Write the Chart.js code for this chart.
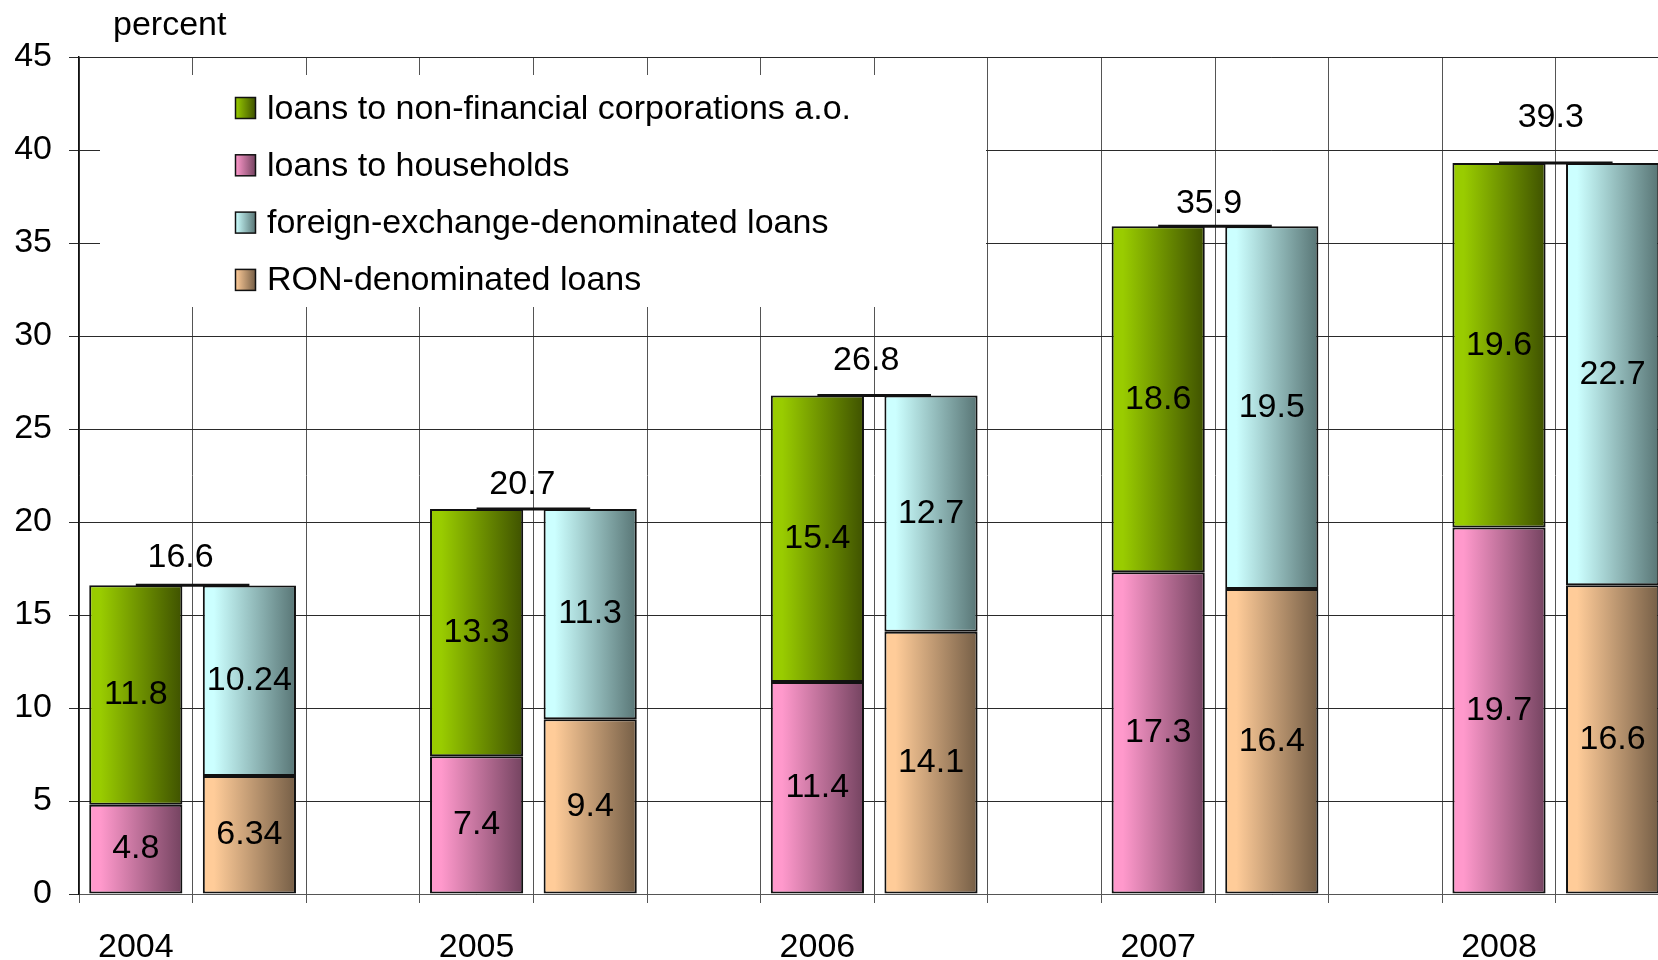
<!DOCTYPE html>
<html>
<head>
<meta charset="utf-8">
<script src="https://cdn.jsdelivr.net/npm/chart.js@4.4.0/dist/chart.umd.min.js"></script>
<style>
  html, body { margin: 0; padding: 0; overflow: hidden; background: #ffffff; width: 1658px; height: 960px; }
  #wrap { position: absolute; left: 0; top: 0; width: 1700px; height: 960px; }
</style>
</head>
<body>
<div id="wrap"><canvas id="c" width="1700" height="960"></canvas></div>
<script>
// ---- data ----
const years = ['2004', '2005', '2006', '2007', '2008'];
const nonFinancialCorp = [11.8, 13.3, 15.4, 18.6, 19.6];
const households = [4.8, 7.4, 11.4, 17.3, 19.7];
const fxDenominated = [10.24, 11.3, 12.7, 19.5, 22.7];
const ronDenominated = [6.34, 9.4, 14.1, 16.4, 16.6];
const totals = [16.6, 20.7, 26.8, 35.9, 39.3];
const yMin = 0, yMax = 45, yStep = 5;
const unitLabel = 'percent';
const seriesNames = {
  nonFin: 'loans to non-financial corporations a.o.',
  hh: 'loans to households',
  fx: 'foreign-exchange-denominated loans',
  ron: 'RON-denominated loans'
};

// ---- styles ----
const FONT = "'Liberation Sans', Arial, sans-serif";
const colors = {
  nonFin: ['#99CC00', '#3F5200'],
  hh: ['#FF99CC', '#744360'],
  fx: ['#CCFFFF', '#587575'],
  ron: ['#FFCC99', '#755E46']
};
const totalLabelLift = [28, 24, 35, 23, 45];
const totalLabelNudge = [-12, -11, -8, -6, -5];

// ---- category slots: [year A-bar, year B-bar, gap] ----
const slotCount = years.length * 3 - 1;
const labels = [];
for (let s = 0; s < slotCount; s++) labels.push(s % 3 === 0 ? years[s / 3] : '');
function place(values, offset) {
  const arr = new Array(slotCount).fill(null);
  values.forEach((v, i) => { arr[i * 3 + offset] = v; });
  return arr;
}

const BAR_PCT = 0.82;
function grad(pair) {
  return (ctx) => {
    const chart = ctx.chart;
    const xs = chart.scales && chart.scales.x;
    if (!xs || !chart.chartArea || ctx.type !== 'data') return pair[0];
    const cx = xs.getPixelForValue(ctx.dataIndex);
    const w = (xs.width / slotCount) * BAR_PCT;
    const g = chart.ctx.createLinearGradient(cx - w / 2, 0, cx + w / 2, 0);
    g.addColorStop(0, pair[0]);
    g.addColorStop(0.12, pair[0]);
    g.addColorStop(1, pair[1]);
    return g;
  };
}
function ds(label, values, offset, key) {
  return {
    label: label,
    data: place(values, offset),
    key: key,
    backgroundColor: grad(colors[key]),
    borderColor: '#111111',
    borderWidth: 2,
    borderSkipped: false,
    barPercentage: BAR_PCT,
    categoryPercentage: 1.0
  };
}

const datasets = [
  ds(seriesNames.hh, households, 0, 'hh'),
  ds(seriesNames.nonFin, nonFinancialCorp, 0, 'nonFin'),
  ds(seriesNames.ron, ronDenominated, 1, 'ron'),
  ds(seriesNames.fx, fxDenominated, 1, 'fx')
];
const legendOrder = ['nonFin', 'hh', 'fx', 'ron'];

const overlay = {
  id: 'overlay',
  beforeDatasetsDraw(chart) {
    const ctx = chart.ctx;
    ctx.save();
    // legend box (white, covering grid)
    ctx.fillStyle = '#ffffff';
    ctx.fillRect(100, 75, 886, 232);
    ctx.font = '34px ' + FONT;
    ctx.textAlign = 'left';
    ctx.textBaseline = 'alphabetic';
    legendOrder.forEach((key, k) => {
      const top = 97.5 + k * 57.3;
      const g = ctx.createLinearGradient(235.5, 0, 255.5, 0);
      g.addColorStop(0, colors[key][0]);
      g.addColorStop(1, colors[key][1]);
      ctx.fillStyle = g;
      ctx.fillRect(235.5, top, 20, 21);
      ctx.strokeStyle = '#111';
      ctx.lineWidth = 1.5;
      ctx.strokeRect(235.5, top, 20, 21);
      ctx.fillStyle = '#000';
      ctx.fillText(seriesNames[key], 267, top + 21);
    });
    ctx.restore();
  },
  afterDatasetsDraw(chart) {
    const ctx = chart.ctx;
    const xs = chart.scales.x, ys = chart.scales.y;
    ctx.save();
    ctx.font = '34px ' + FONT;
    ctx.fillStyle = '#000';
    ctx.textAlign = 'center';
    ctx.textBaseline = 'middle';
    // segment values
    chart.data.datasets.forEach((d, di) => {
      const meta = chart.getDatasetMeta(di);
      meta.data.forEach((el, i) => {
        const v = d.data[i];
        if (v === null || v === undefined) return;
        ctx.fillText(String(v), el.x, (el.y + el.base) / 2);
      });
    });
    // totals
    totals.forEach((t, i) => {
      const x1 = xs.getPixelForValue(i * 3);
      const x2 = xs.getPixelForValue(i * 3 + 1);
      const y = ys.getPixelForValue(t);
      ctx.strokeStyle = '#111';
      ctx.lineWidth = 3;
      ctx.beginPath();
      ctx.moveTo(x1, y);
      ctx.lineTo(x2, y);
      ctx.stroke();
      ctx.fillText(t.toFixed(1), (x1 + x2) / 2 + totalLabelNudge[i], y - totalLabelLift[i]);
    });
    // unit label
    ctx.textAlign = 'left';
    ctx.textBaseline = 'alphabetic';
    ctx.fillText(unitLabel, 113, 35);
    ctx.restore();
  }
};

new Chart(document.getElementById('c'), {
  type: 'bar',
  data: { labels: labels, datasets: datasets },
  options: {
    responsive: false,
    animation: false,
    devicePixelRatio: 1,
    layout: { padding: { top: 57, right: 30.6, left: 0, bottom: 0 } },
    plugins: { legend: { display: false }, tooltip: { enabled: false } },
    scales: {
      x: {
        stacked: true,
        grid: { offset: true, color: '#555', lineWidth: 1, tickLength: 9, drawOnChartArea: true },
        border: { display: true, color: '#555', width: 1 },
        ticks: { autoSkip: false, maxRotation: 0, minRotation: 0, color: '#000',
                 font: { family: FONT, size: 34 }, padding: 24 },
        afterFit(s) { s.height = 66; }
      },
      y: {
        stacked: true,
        min: yMin, max: yMax,
        ticks: { stepSize: yStep, color: '#000', font: { family: FONT, size: 34 }, padding: 17 },
        grid: { color: '#2a2a2a', lineWidth: 1, tickLength: 10 },
        border: { display: true, color: '#111', width: 1.5 },
        afterFit(s) { s.width = 79; }
      }
    }
  },
  plugins: [overlay]
});
</script>
</body>
</html>
